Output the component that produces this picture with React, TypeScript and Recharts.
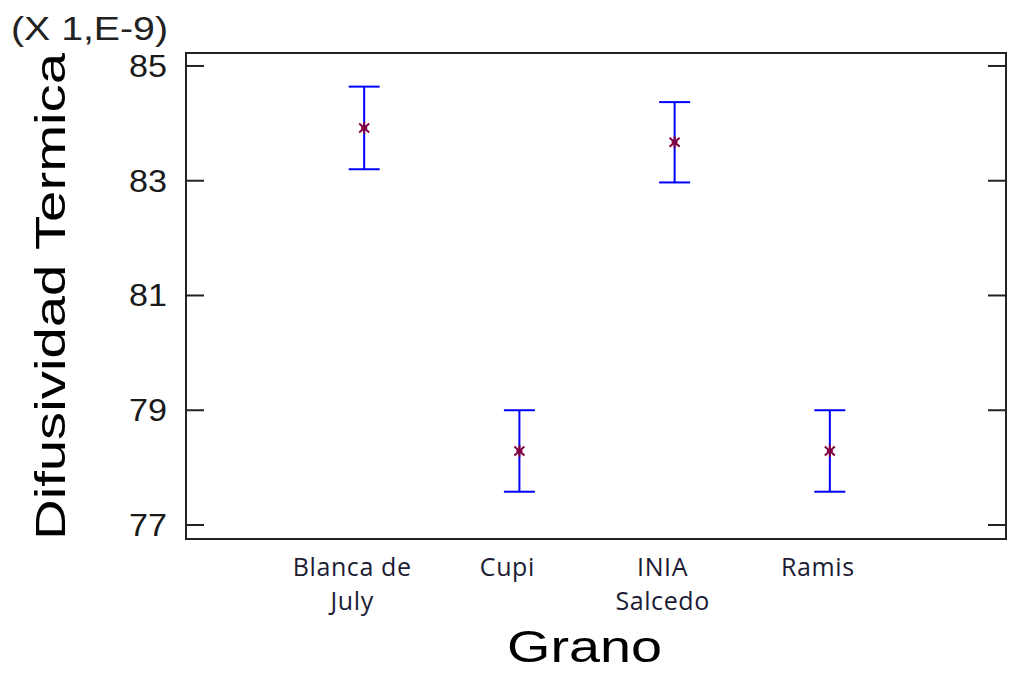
import React from "react";
import {
  ScatterChart,
  Scatter,
  XAxis,
  YAxis,
  ErrorBar,
  ReferenceArea,
  Label,
} from "recharts";

// grain varieties (x positions 1..4) and their label lines
const categories = ["Blanca de July", "Cupi", "INIA Salcedo", "Ramis"];
const tickLines = [["Blanca de", "July"], ["Cupi"], ["INIA", "Salcedo"], ["Ramis"]];
// mean thermal diffusivity (x 1e-9) and half-width of the interval
const means = [83.92, 78.29, 83.67, 78.29];
const halfWidths = [0.72, 0.71, 0.7, 0.71];
const yTicks = [77, 79, 81, 83, 85];

const Y_DOMAIN: [number, number] = [76.756, 85.226];
const X_DOMAIN: [number, number] = [-0.148, 5.135];

const data = categories.map((name, i) => ({
  name,
  x: i + 1,
  y: means[i],
  err: halfWidths[i],
}));

const FONT = "'Liberation Sans', Arial, sans-serif";

function LeftTick({ x, y, payload }: any) {
  return (
    <g>
      <line x1={x} y1={y} x2={x + 18} y2={y} stroke="#222" strokeWidth={2} />
      <text
        x={x - 19}
        y={y + 11}
        textAnchor="end"
        fontFamily={FONT}
        fontSize={32}
        fill="#1a1a1a"
        textLength={38}
        lengthAdjust="spacingAndGlyphs"
      >
        {payload.value}
      </text>
    </g>
  );
}

function RightTick({ x, y }: any) {
  return <line x1={x} y1={y} x2={x - 18} y2={y} stroke="#222" strokeWidth={2} />;
}

function CategoryTick({ x, y, payload }: any) {
  const lines = tickLines[payload.value - 1] || [];
  const cx = x - 12;
  return (
    <text
      x={cx}
      y={y}
      textAnchor="middle"
      fontFamily="'Open Sans', sans-serif"
      fontSize={25}
      fontWeight={500}
      letterSpacing={0.6}
      fill="#1c1c34"
    >
      {lines.map((l, i) => (
        <tspan key={i} x={cx} dy={i === 0 ? 35 : 34}>
          {l}
        </tspan>
      ))}
    </text>
  );
}

function Star({ cx, cy }: any) {
  const c = "#800040";
  return (
    <g stroke={c} strokeWidth={2}>
      <line x1={cx} y1={cy - 6} x2={cx} y2={cy + 6} />
      <line x1={cx - 5} y1={cy - 4.5} x2={cx + 5} y2={cy + 4.5} />
      <line x1={cx - 5} y1={cy + 4.5} x2={cx + 5} y2={cy - 4.5} />
      <line x1={cx - 3} y1={cy} x2={cx + 3} y2={cy} />
    </g>
  );
}

export default function App() {
  return (
    <div style={{ position: "absolute", left: 0, top: 0, background: "#fff" }}>
      <ScatterChart
        width={1013}
        height={676}
        margin={{ top: 53, right: 0, bottom: 0, left: 0 }}
      >
        <XAxis
          type="number"
          dataKey="x"
          domain={X_DOMAIN}
          ticks={[1, 2, 3, 4]}
          interval={0}
          allowDataOverflow
          axisLine={false}
          tickLine={false}
          tickSize={0}
          height={137}
          tick={<CategoryTick />}
        >
          <Label
            content={() => (
              <text
                x={584.5}
                y={662}
                textAnchor="middle"
                fontFamily={FONT}
                fontSize={44}
                fill="#000"
                textLength={155}
                lengthAdjust="spacingAndGlyphs"
              >
                Grano
              </text>
            )}
          />
        </XAxis>
        <YAxis
          yAxisId="left"
          type="number"
          domain={Y_DOMAIN}
          ticks={yTicks}
          interval={0}
          allowDataOverflow
          width={186}
          axisLine={false}
          tickLine={false}
          tickSize={0}
          tickMargin={0}
          tick={<LeftTick />}
        >
          <Label
            content={() => (
              <g>
                <text
                  x={65}
                  y={296.5}
                  transform="rotate(-90, 65, 296.5)"
                  textAnchor="middle"
                  fontFamily={FONT}
                  fontSize={42}
                  fill="#000"
                  textLength={487}
                  lengthAdjust="spacingAndGlyphs"
                >
                  Difusividad Termica
                </text>
                <text
                  x={11}
                  y={40}
                  fontFamily={FONT}
                  fontSize={33}
                  fill="#222"
                  textLength={157}
                  lengthAdjust="spacingAndGlyphs"
                >
                  (X 1,E-9)
                </text>
              </g>
            )}
          />
        </YAxis>
        <YAxis
          yAxisId="right"
          orientation="right"
          type="number"
          domain={Y_DOMAIN}
          ticks={yTicks}
          interval={0}
          allowDataOverflow
          width={7}
          axisLine={false}
          tickLine={false}
          tickSize={0}
          tickMargin={0}
          tick={<RightTick />}
        />
        <ReferenceArea
          yAxisId="left"
          x1={X_DOMAIN[0]}
          x2={X_DOMAIN[1]}
          y1={Y_DOMAIN[0]}
          y2={Y_DOMAIN[1]}
          fill="none"
          stroke="#222"
          strokeWidth={2}
          fillOpacity={0}
        />
        <Scatter
          yAxisId="left"
          data={data}
          dataKey="y"
          isAnimationActive={false}
          shape={<Star />}
        >
          <ErrorBar
            dataKey="err"
            direction="y"
            width={15.5}
            stroke="#0000ff"
            strokeWidth={2}
          />
        </Scatter>
      </ScatterChart>
    </div>
  );
}
